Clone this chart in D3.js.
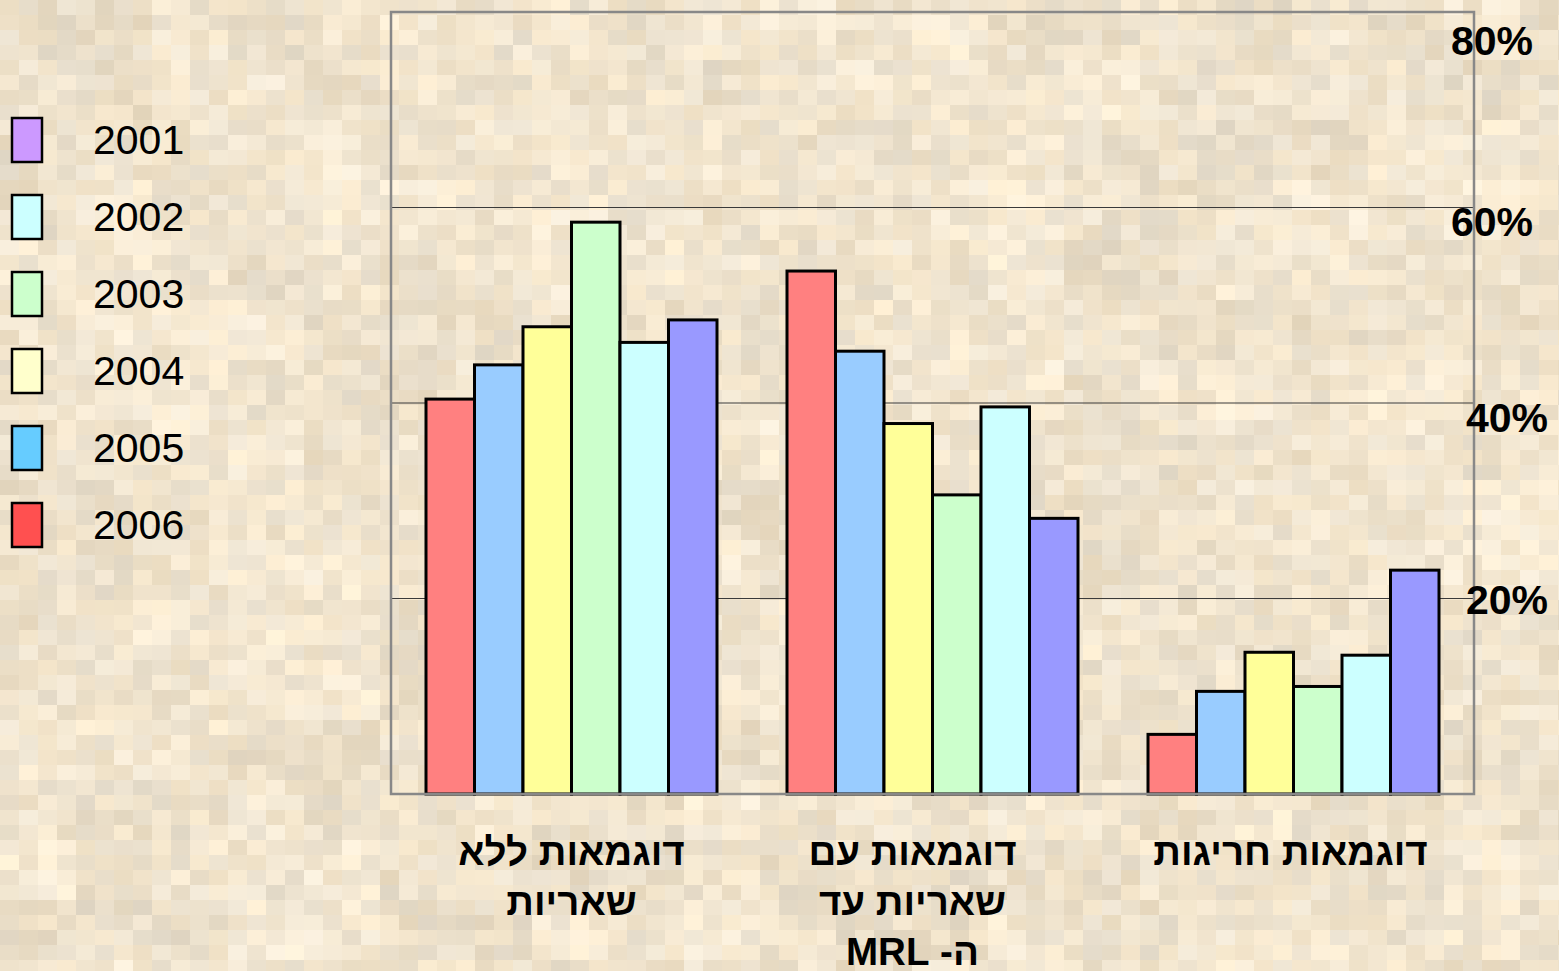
<!DOCTYPE html>
<html>
<head>
<meta charset="utf-8">
<script src="https://cdn.jsdelivr.net/npm/d3@7"></script>
<style>
  body { margin: 0; background: #eedfc6; }
  svg { display: block; }
  text { font-family: "Liberation Sans", Arial, sans-serif; fill: #000; }
</style>
</head>
<body>
<svg id="chart" width="1559" height="971"></svg>
<script>
// categories (each label broken in lines, as on the slide)
var categories = ["ללא", "עם", "חריגות"];
var categoryLines = [
  ["דוגמאות ללא", "שאריות"],
  ["דוגמאות עם", "שאריות עד", "ה- MRL"],
  ["דוגמאות חריגות"]
];

// years, in the order the bars are drawn
var years = ["2006", "2005", "2004", "2003", "2002", "2001"];
var legendYears = ["2001", "2002", "2003", "2004", "2005", "2006"];

// percent per category, one array per year
var v2006 = [40.4, 53.5, 6.1];
var v2005 = [43.9, 45.3, 10.5];
var v2004 = [47.8, 37.9, 14.5];
var v2003 = [58.5, 30.6, 11.0];
var v2002 = [46.2, 39.6, 14.2];
var v2001 = [48.5, 28.2, 22.9];

var yTicks = [20, 40, 60, 80];

var barColors = {"2006": "#ff8080", "2005": "#99ccff", "2004": "#ffff99", "2003": "#ccffcc", "2002": "#ccffff", "2001": "#9999ff"};
var legendColors = {"2001": "#cc99ff", "2002": "#ccffff", "2003": "#ccffcc", "2004": "#ffffcc", "2005": "#66ccff", "2006": "#ff5050"};

var valuesByYear = {"2006": v2006, "2005": v2005, "2004": v2004, "2003": v2003, "2002": v2002, "2001": v2001};

var svg = d3.select("#chart");

// background: blocky beige texture (deterministic hash, decoration only)
function hash(i, j, s) {
  var h = Math.sin(i * 127.1 + j * 311.7 + s * 74.7) * 43758.5453;
  return h - Math.floor(h);
}
var tw = 19, th = 15;
var tiles = [];
for (var j = 0; j < Math.ceil(971 / th); j++) {
  for (var i = 0; i < Math.ceil(1559 / tw); i++) {
    tiles.push({i: i, j: j});
  }
}
svg.append("g").selectAll("rect").data(tiles).enter().append("rect")
  .attr("x", d => d.i * tw)
  .attr("y", d => d.j * th)
  .attr("width", tw)
  .attr("height", th)
  .attr("fill", function(d) {
    var big = hash(Math.floor(d.i / 4), Math.floor(d.j / 4), 3) - 0.5;
    var n = hash(d.i, d.j, 1) - 0.5;
    var t = hash(d.i, d.j, 2) - 0.5;
    var l = 228 + n * 22 + big * 12;
    var r = l + 12 + t * 6, g = l, b = l - 22 - t * 10;
    return d3.rgb(Math.min(255, r), Math.min(255, g), Math.min(255, b));
  });

// plot area
var plotL = 391, plotR = 1474, plotT = 12, plotB = 794;

var x0 = d3.scaleBand().domain(categories).range([plotL, plotR]).padding(0);
var x1 = d3.scaleBand().domain(years).range([35, x0.bandwidth() - 35]).padding(0);
var y = d3.scaleLinear().domain([0, 80]).range([plotB, plotT]);

// grid lines
svg.append("g").selectAll("line").data(yTicks.filter(d => d < 80)).enter().append("line")
  .attr("x1", plotL).attr("x2", plotR)
  .attr("y1", d => y(d)).attr("y2", d => y(d))
  .attr("stroke", "#3a3a3a").attr("stroke-width", 1);

// bars
var groups = svg.append("g").selectAll("g").data(categories).enter().append("g")
  .attr("transform", d => "translate(" + x0(d) + ",0)");

groups.selectAll("rect")
  .data((c, ci) => years.map(yr => ({year: yr, value: valuesByYear[yr][ci]})))
  .enter().append("rect")
  .attr("x", d => x1(d.year))
  .attr("y", d => y(d.value))
  .attr("width", x1.bandwidth())
  .attr("height", d => y(0) - y(d.value))
  .attr("fill", d => barColors[d.year])
  .attr("stroke", "#000")
  .attr("stroke-width", 3);

// frame
svg.append("rect")
  .attr("x", plotL).attr("y", plotT)
  .attr("width", plotR - plotL).attr("height", plotB - plotT)
  .attr("fill", "none").attr("stroke", "#888").attr("stroke-width", 2.5);

// y axis labels on the right
var yAxis = svg.append("g")
  .attr("transform", "translate(" + plotR + ",0)")
  .call(d3.axisRight(y).tickValues(yTicks).tickSize(0).tickFormat(d => d + "%"));
yAxis.select(".domain").remove();
yAxis.selectAll(".tick text")
  .attr("x", d => d >= 60 ? -23 : -8)
  .attr("dy", d => d == 80 ? 42 : (d == 20 ? 14.5 : 28))
  .style("font-family", "'Liberation Sans', Arial, sans-serif")
  .style("font-size", "41px")
  .style("font-weight", "bold")
  .attr("fill", "#000")
  .attr("text-anchor", "start");

// category labels
var labels = svg.append("g").selectAll("text").data(categories).enter().append("text")
  .attr("text-anchor", "middle")
  .attr("direction", "rtl")
  .style("font-size", "38.5px")
  .style("font-weight", "bold");
labels.each(function(c, ci) {
  var t = d3.select(this);
  categoryLines[ci].forEach(function(line, li) {
    t.append("tspan")
      .attr("x", x0(c) + x0.bandwidth() / 2 - (ci == 1 ? 20 : 0) - (ci == 2 ? 3 : 0))
      .attr("y", 865 + li * 50)
      .text(line);
  });
});

// legend
var legend = svg.append("g").selectAll("g").data(legendYears).enter().append("g")
  .attr("transform", (d, i) => "translate(12," + (118 + i * 77) + ")");
legend.append("rect")
  .attr("width", 30).attr("height", 44)
  .attr("fill", d => legendColors[d])
  .attr("stroke", "#000").attr("stroke-width", 2.5);
legend.append("text")
  .attr("x", 81).attr("y", 21).attr("dy", "0.36em")
  .style("font-size", "41px")
  .text(d => d);
</script>
</body>
</html>
